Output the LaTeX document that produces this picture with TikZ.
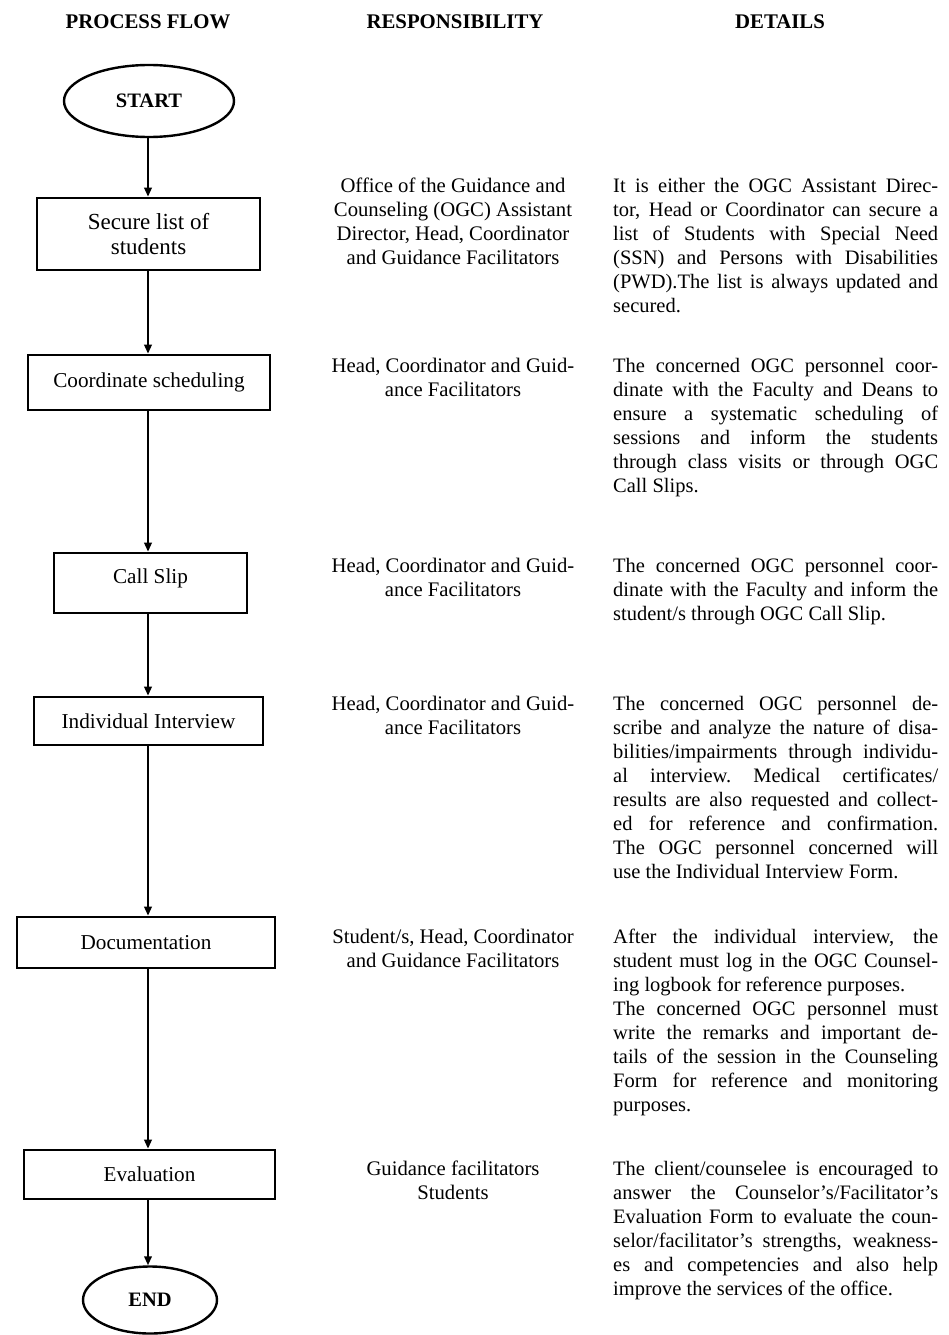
\documentclass[tikz,border=0pt]{standalone}
\usepackage{fontspec}
\setmainfont{Liberation Serif}
\usetikzlibrary{shapes.geometric,arrows.meta}
\newcommand\jl[1]{\leavevmode\hbox to 325pt{\spaceskip=\fontdimen2\font plus 1fil minus \fontdimen4\font\xspaceskip=\spaceskip\relax #1}}
\newcommand\lastl[1]{\leavevmode\hbox to 325pt{\spaceskip=\fontdimen2\font\xspaceskip=\spaceskip\relax #1\hfil}}
\begin{document}
\begin{tikzpicture}[x=1pt,y=-1pt,
  every node/.style={inner sep=0pt},
  hdr/.style={font=\fontsize{20.8}{24}\selectfont\bfseries},
  terminal/.style={ellipse,draw,line width=2.4pt,font=\fontsize{20.5}{24}\selectfont\bfseries},
  stepbox/.style={rectangle,draw,line width=2.6pt,font=\fontsize{21.2}{24}\selectfont,align=center},
  flowarrow/.style={line width=2pt,-{Triangle[length=9pt,width=7.5pt]}},
  resp/.style={anchor=north,align=center,font=\fontsize{20.7}{24}\selectfont},
  det/.style={anchor=north west,align=left,text width=325pt,font=\fontsize{20.5}{24}\selectfont}]
\useasboundingbox (0,0) rectangle (949,1335);

\node[hdr] (h1) at (148,22) {PROCESS FLOW};
\node[hdr] (h2) at (455,22) {RESPONSIBILITY};
\node[hdr] (h3) at (780,22) {DETAILS};

\node[terminal,minimum width=170pt,minimum height=72pt] (start) at (149,101) {START};
\node[stepbox,minimum width=223pt,minimum height=72pt,font=\fontsize{23}{25}\selectfont] (s1) at (148.5,234) {Secure list of\\students};
\node[stepbox,minimum width=242pt,minimum height=55pt] (s2) at (149,382.5) {Coordinate scheduling};
\node[stepbox,minimum width=193pt,minimum height=60pt,text depth=14pt] (s3) at (150.5,583) {Call Slip};
\node[stepbox,minimum width=229pt,minimum height=48pt] (s4) at (148.5,721) {Individual Interview};
\node[stepbox,minimum width=258pt,minimum height=51pt] (s5) at (146,942.5) {Documentation};
\node[stepbox,minimum width=251pt,minimum height=49pt] (s6) at (149.5,1174.5) {Evaluation};
\node[terminal,minimum width=134pt,minimum height=67pt] (end) at (150,1300) {END};

\coordinate (spine) at (148,0);
\draw[flowarrow] (start.south -| spine) -- (s1.north -| spine);
\draw[flowarrow] (s1.south -| spine) -- (s2.north -| spine);
\draw[flowarrow] (s2.south -| spine) -- (s3.north -| spine);
\draw[flowarrow] (s3.south -| spine) -- (s4.north -| spine);
\draw[flowarrow] (s4.south -| spine) -- (s5.north -| spine);
\draw[flowarrow] (s5.south -| spine) -- (s6.north -| spine);
\draw[flowarrow] (s6.south -| spine) -- (end.north -| spine);

\node[resp] (r1) at (453,178) {Office of the Guidance and\\Counseling (OGC) Assistant\\Director, Head, Coordinator\\and Guidance Facilitators};
\node[resp] (r2) at (453,358) {Head, Coordinator and Guid-\\ance Facilitators};
\node[resp] (r3) at (453,558) {Head, Coordinator and Guid-\\ance Facilitators};
\node[resp] (r4) at (453,696) {Head, Coordinator and Guid-\\ance Facilitators};
\node[resp] (r5) at (453,929) {Student/s, Head, Coordinator\\and Guidance Facilitators};
\node[resp] (r6) at (453,1161) {Guidance facilitators\\Students};

\node[det] (d1) at (613,178) {\jl{It is either the OGC Assistant Direc-}\\\jl{tor, Head or Coordinator can secure a}\\\jl{list of Students with Special Need}\\\jl{(SSN) and Persons with Disabilities}\\\jl{(PWD).The list is always updated and}\\\lastl{secured.}};
\node[det] (d2) at (613,358) {\jl{The concerned OGC personnel coor-}\\\jl{dinate with the Faculty and Deans to}\\\jl{ensure a systematic scheduling of}\\\jl{sessions and inform the students}\\\jl{through class visits or through OGC}\\\lastl{Call Slips.}};
\node[det] (d3) at (613,558) {\jl{The concerned OGC personnel coor-}\\\jl{dinate with the Faculty and inform the}\\\lastl{student/s through OGC Call Slip.}};
\node[det] (d4) at (613,696) {\jl{The concerned OGC personnel de-}\\\jl{scribe and analyze the nature of disa-}\\\jl{bilities/impairments through individu-}\\\jl{al interview. Medical certificates/}\\\jl{results are also requested and collect-}\\\jl{ed for reference and confirmation.}\\\jl{The OGC personnel concerned will}\\\lastl{use the Individual Interview Form.}};
\node[det] (d5) at (613,929) {\jl{After the individual interview, the}\\\jl{student must log in the OGC Counsel-}\\\lastl{ing logbook for reference purposes.}\\\jl{The concerned OGC personnel must}\\\jl{write the remarks and important de-}\\\jl{tails of the session in the Counseling}\\\jl{Form for reference and monitoring}\\\lastl{purposes.}};
\node[det] (d6) at (613,1161) {\jl{The client/counselee is encouraged to}\\\jl{answer the Counselor’s/Facilitator’s}\\\jl{Evaluation Form to evaluate the coun-}\\\jl{selor/facilitator’s strengths, weakness-}\\\jl{es and competencies and also help}\\\lastl{improve the services of the office.}};
\end{tikzpicture}
\end{document}
